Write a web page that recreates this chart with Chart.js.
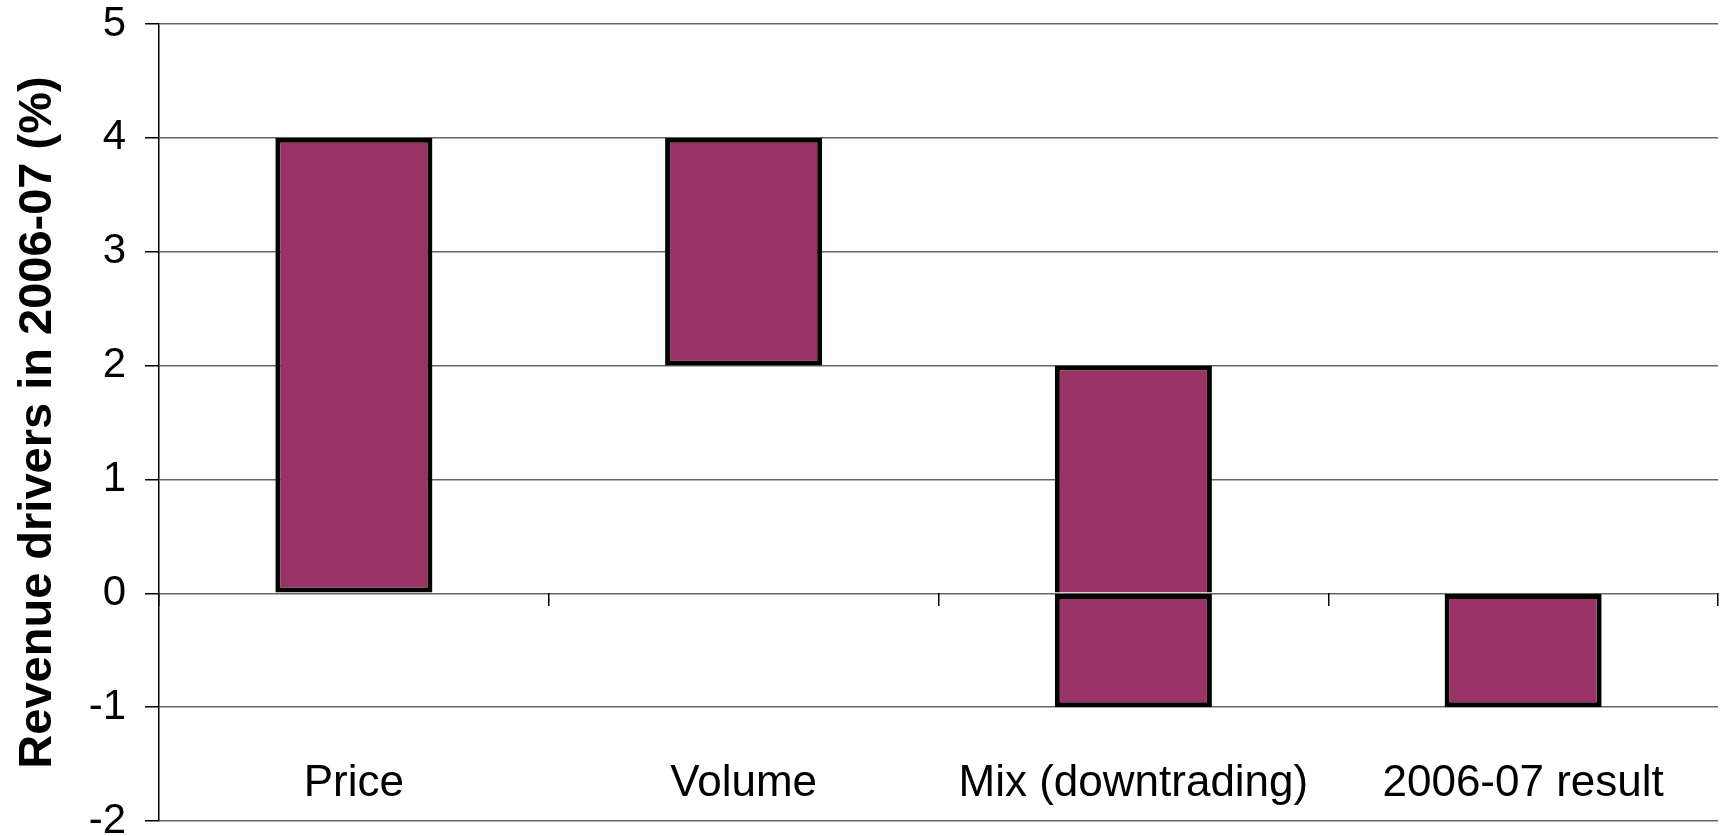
<!DOCTYPE html>
<html>
<head>
<meta charset="utf-8">
<script src="https://cdn.jsdelivr.net/npm/chart.js@4/dist/chart.umd.min.js"></script>
<style>
  body { margin: 0; background: #fff; }
  #wrap { width: 1722px; height: 836px; }
</style>
</head>
<body>
<div id="wrap"><canvas id="driversChart" width="1722" height="836"></canvas></div>
<script>
const categories = ['Price', 'Volume', 'Mix (downtrading)', '2006-07 result']
// floating bars: where each step starts and ends (%)
const stepStart = [0, 2, 0, -1]
const stepEnd = [4, 4, 2, 0]
// mix step crosses zero, so its part below zero is a second piece
const belowStart = [null, null, -1, null]
const belowEnd = [null, null, 0, null]
const yTicks = [5, 4, 3, 2, 1, 0, -1, -2]

const pairs = (a, b) => a.map((v, i) => v === null ? null : [v, b[i]])

const barStyle = {
    backgroundColor: '#993366',
    borderColor: '#000',
    borderWidth: 5,
    barPercentage: 0.403,
    categoryPercentage: 1,
    grouped: false
}

const data = {
    labels: categories,
    datasets: [
        // upper piece of the mix bar shares its bottom edge with the lower piece
        { data: pairs(stepStart, stepEnd), xAxisID: 'x', ...barStyle,
          borderSkipped: (ctx) => stepStart[ctx.dataIndex] === belowEnd[ctx.dataIndex] ? 'bottom' : false },
        { data: pairs(belowStart, belowEnd), xAxisID: 'x', ...barStyle, borderSkipped: false }
    ]
}

const options = {
    responsive: false,
    animation: false,
    layout: { padding: { top: 24, right: 4, bottom: 15, left: 0 } },
    plugins: {
        legend: { display: false },
        tooltip: { enabled: false }
    },
    scales: {
        y: {
            min: Math.min(...yTicks),
            max: Math.max(...yTicks),
            ticks: {
                stepSize: 1,
                color: '#000',
                padding: 19,
                font: { family: 'Liberation Sans, Arial, sans-serif', size: 42 }
            },
            grid: { color: '#666', lineWidth: 1.5, tickLength: 14, tickColor: '#000' },
            border: { display: true, color: '#000', width: 1.5 },
            title: {
                display: true,
                text: 'Revenue drivers in 2006-07 (%)',
                color: '#000',
                padding: { top: 10, bottom: 0 },
                font: { family: 'Liberation Sans, Arial, sans-serif', size: 47, weight: 'bold' }
            },
            afterFit: (scale) => {
                scale.width = 159
                // let the -2 label run off the bottom like the original
                scale.paddingTop = 0
                scale.paddingBottom = 0
            }
        },
        x: {
            type: 'category',
            position: { y: 0 },
            offset: true,
            ticks: { display: false },
            grid: { offset: true, drawOnChartArea: false, drawTicks: true, tickLength: 13, tickColor: '#000', lineWidth: 1.5 },
            border: { display: false }
        },
        xl: {
            type: 'category',
            position: { y: -1.445 },
            offset: true,
            ticks: {
                color: '#000',
                padding: 0,
                maxRotation: 0,
                font: { family: 'Liberation Sans, Arial, sans-serif', size: 44 }
            },
            grid: { display: false, drawTicks: false },
            border: { display: false }
        }
    }
}

new Chart('driversChart', { type: 'bar', data, options })
</script>
</body>
</html>
